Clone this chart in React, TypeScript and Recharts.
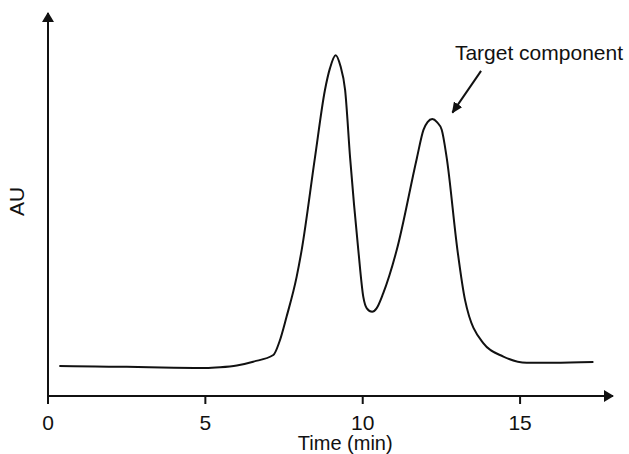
import { Label, Line, LineChart, ReferenceDot, ReferenceLine, XAxis, YAxis } from 'recharts';

// chromatogram trace: retention time (min) vs detector response (AU)
const TIME = [
  0.36, 1.5, 2.5, 4.0, 5.0, 5.47, 6.0, 6.52, 7.16, 7.35, 7.58, 7.9, 8.06, 8.48, 8.8, 8.96, 9.14,
  9.29, 9.44, 9.6, 9.86, 10.02, 10.13, 10.3, 10.44, 10.65, 11.08, 11.72, 11.93, 12.06, 12.21,
  12.36, 12.51, 12.67, 13.01, 13.25, 13.83, 14.47, 15.21, 16.06, 17.33,
];
const SIGNAL = [
  7.83, 7.7, 7.62, 7.36, 7.31, 7.49, 7.96, 8.96, 10.7, 14.1, 20.7, 31.1, 38.1, 62.1, 79.9, 85.6,
  89.0, 86.2, 79.9, 62.1, 38.1, 25.8, 22.9, 22.0, 22.9, 26.8, 38.1, 62.1, 69.5, 71.5, 72.3,
  71.5, 69.5, 62.1, 38.1, 25.1, 13.8, 10.3, 8.69, 8.69, 8.88,
];
const TIME_TICKS = [0, 5, 10, 15];

// axis extents (arrow tips)
const X_MAX = 18;
const X_ARROW_END = 17.95;
const Y_MAX = 100;

// callout for the second peak
const CALLOUT_TEXT = 'Target component';
const CALLOUT_TEXT_POS = { t: 12.93, au: 87.7 };
const CALLOUT_FROM = { t: 13.76, au: 84.9 };
const CALLOUT_TO = { t: 12.85, au: 74.0 };

const data = TIME.map((t, i) => ({ t, au: SIGNAL[i] }));

const INK = '#111';
const FONT = "'Liberation Sans', Arial, Helvetica, sans-serif";

export default function App() {
  return (
    <div style={{ position: 'absolute', left: 0, top: 0, background: '#fff' }}>
      <LineChart
        width={629}
        height={454}
        data={data}
        margin={{ top: 13, right: 14.5, bottom: 0, left: 0 }}
      >
        <defs>
          <marker
            id="axisHead"
            markerUnits="userSpaceOnUse"
            viewBox="0 0 10 12"
            refX={9}
            refY={6}
            markerWidth={10}
            markerHeight={12}
            orient="auto"
          >
            <path d="M0,0 L10,6 L0,12 z" fill={INK} />
          </marker>
          <marker
            id="calloutHead"
            markerUnits="userSpaceOnUse"
            viewBox="0 0 11 10"
            refX={10}
            refY={5}
            markerWidth={11}
            markerHeight={10}
            orient="auto"
          >
            <path d="M0,0 L11,5 L0,10 z" fill={INK} />
          </marker>
        </defs>
        <XAxis
          type="number"
          dataKey="t"
          domain={[0, X_MAX]}
          ticks={TIME_TICKS}
          axisLine={false}
          tickLine={{ stroke: INK, strokeWidth: 2 }}
          tickSize={8}
          tickMargin={11}
          height={58}
          tick={{ fill: INK, fontSize: 21, fontFamily: FONT }}
        >
          <Label
            value="Time (min)"
            position="insideBottom"
            offset={4}
            dx={14}
            style={{ fill: INK, fontSize: 20, fontFamily: FONT }}
          />
        </XAxis>
        <YAxis
          type="number"
          domain={[0, Y_MAX]}
          width={48}
          axisLine={false}
          tickLine={false}
          tick={false}
        >
          <Label
            value="AU"
            angle={-90}
            position="insideLeft"
            offset={17}
            dy={-3}
            style={{ fill: INK, fontSize: 21, fontFamily: FONT, textAnchor: 'middle' }}
          />
        </YAxis>
        <ReferenceLine
          segment={[
            { x: 0, y: 0 },
            { x: X_ARROW_END, y: 0 },
          ]}
          ifOverflow="visible"
          shape={(p: any) => (
            <line
              x1={p.x1 - 1}
              y1={p.y1}
              x2={p.x2}
              y2={p.y2}
              stroke={INK}
              strokeWidth={2}
              markerEnd="url(#axisHead)"
            />
          )}
        />
        <ReferenceLine
          segment={[
            { x: 0, y: 0 },
            { x: 0, y: Y_MAX },
          ]}
          ifOverflow="visible"
          shape={(p: any) => (
            <line
              x1={p.x1}
              y1={p.y1 + 1}
              x2={p.x2}
              y2={p.y2}
              stroke={INK}
              strokeWidth={2}
              markerEnd="url(#axisHead)"
            />
          )}
        />
        <Line
          type="monotone"
          dataKey="au"
          stroke={INK}
          strokeWidth={2}
          dot={false}
          activeDot={false}
          isAnimationActive={false}
        />
        <ReferenceLine
          segment={[
            { x: CALLOUT_FROM.t, y: CALLOUT_FROM.au },
            { x: CALLOUT_TO.t, y: CALLOUT_TO.au },
          ]}
          ifOverflow="visible"
          shape={(p: any) => (
            <line
              x1={p.x1}
              y1={p.y1}
              x2={p.x2}
              y2={p.y2}
              stroke={INK}
              strokeWidth={2}
              markerEnd="url(#calloutHead)"
            />
          )}
        />
        <ReferenceDot
          x={CALLOUT_TEXT_POS.t}
          y={CALLOUT_TEXT_POS.au}
          ifOverflow="visible"
          shape={(p: any) => (
            <text x={p.cx} y={p.cy} fill={INK} fontSize={21} fontFamily={FONT}>
              {CALLOUT_TEXT}
            </text>
          )}
        />
      </LineChart>
    </div>
  );
}
